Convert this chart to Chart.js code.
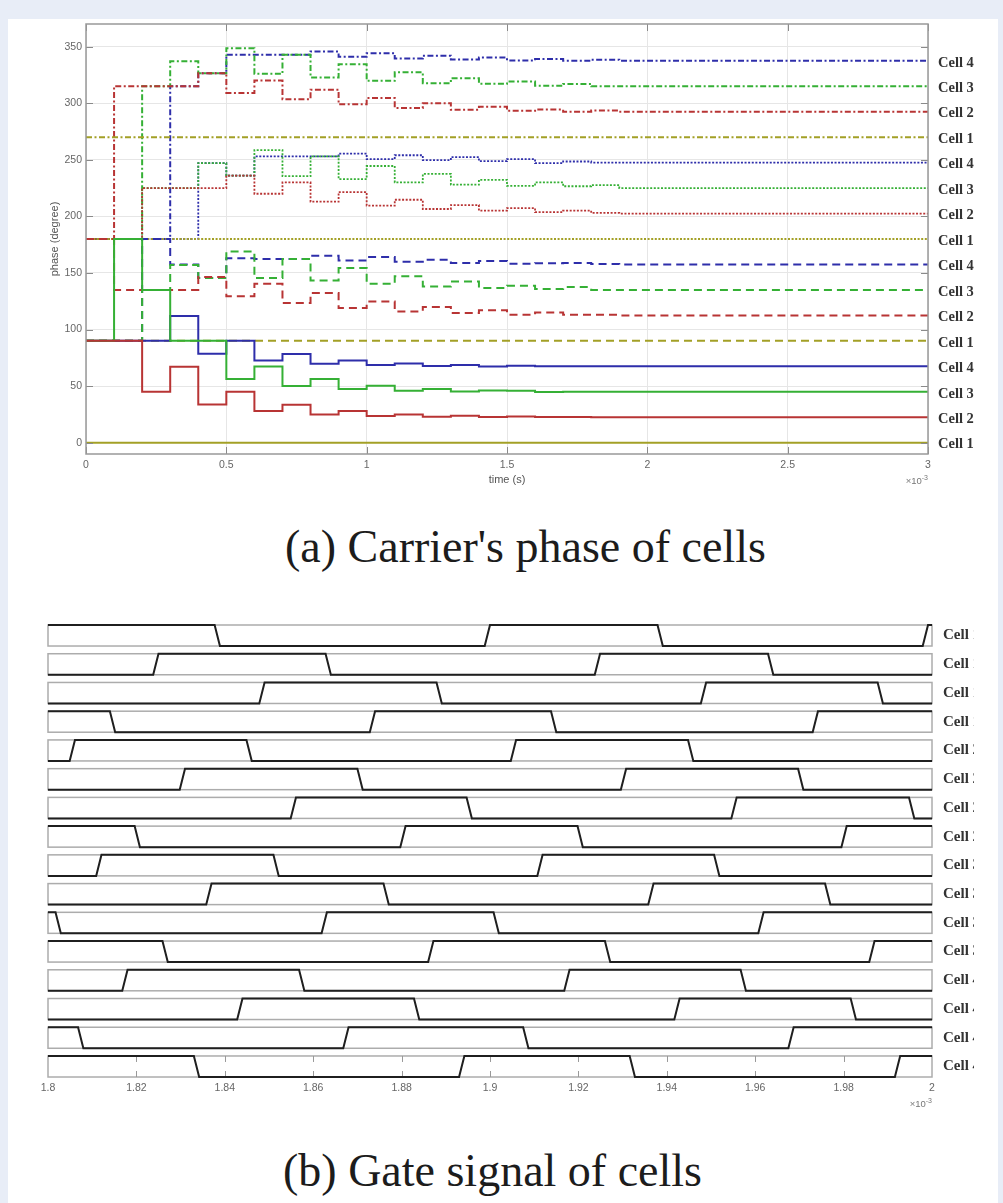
<!DOCTYPE html>
<html lang="en">
<head>
<meta charset="UTF-8">
<title>Carrier phase and gate signal of cells</title>
<script src="https://cdn.jsdelivr.net/npm/chart.js"></script>
<style>
  body { margin: 0; width: 1003px; height: 1203px; overflow: hidden; position: relative; background: #e8edf7; }
  .panel { position: absolute; left: 8px; top: 19px; width: 990px; height: 1184px; background: #fff; }
  .box { position: absolute; left: 0; width: 1003px; }
  .caption { position: absolute; font-family: "Liberation Serif", serif; font-size: 46px; line-height: 46px; color: #1c1c1c; white-space: nowrap; }
</style>
</head>
<body>
<div class="panel"></div>
<div class="box" style="top:0;height:500px"><canvas id="phaseChart" width="1003" height="500"></canvas></div>
<div class="caption" style="left:285px;top:524px">(a) Carrier's phase of cells</div>
<div class="box" style="top:600px;height:520px"><canvas id="gateChart" width="1003" height="520"></canvas></div>
<div class="caption" style="left:283px;top:1148px">(b) Gate signal of cells</div>
<script>
// ---------- (a) carrier phase, value held from each step time to the next ----------
const stepTimes = [0, 0.1, 0.2, 0.3, 0.4, 0.5, 0.6, 0.7, 0.8, 0.9, 1.0, 1.1, 1.2, 1.3, 1.4, 1.5, 1.6, 1.7, 1.8, 1.9];
const endTime = 3;
const timeTicks = [0, 0.5, 1, 1.5, 2, 2.5, 3];
const phaseTicks = [0, 50, 100, 150, 200, 250, 300, 350];
const cellNames = ['Cell 1', 'Cell 2', 'Cell 3', 'Cell 4'];

// solid group
const solidCell1 = [0, 0, 0, 0, 0, 0, 0, 0, 0, 0, 0, 0, 0, 0, 0, 0, 0, 0, 0, 0];
const solidCell2 = [90, 90, 45, 67, 33.75, 45, 28, 33.5, 25, 28, 23.5, 25, 23, 23.8, 22.6, 23.2, 22.8, 22.8, 22.5, 22.5];
const solidCell3 = [90, 180, 135, 90, 90, 56.2, 67.4, 50, 56.2, 47.4, 50.3, 45.9, 47.4, 45.3, 46.2, 45.9, 44.8, 45, 45, 45];
const solidCell4 = [90, 90, 90, 112, 78.6, 90, 72.7, 78.3, 69.8, 72.7, 68.6, 70, 67.7, 68.6, 67.4, 68, 67.5, 67.5, 67.5, 67.5];
// dashed group
const dashedCell1 = [90, 90, 90, 90, 90, 90, 90, 90, 90, 90, 90, 90, 90, 90, 90, 90, 90, 90, 90, 90];
const dashedCell2 = [180, 135, 135, 135, 146.4, 129.3, 140.5, 123.4, 132.2, 119, 124.8, 116, 120, 114.6, 117, 113, 115, 113, 113, 112.5];
const dashedCell3 = [90, 90, 135, 157, 145.5, 169, 145.5, 162.3, 143.4, 154.3, 140.5, 147, 138, 142.5, 136.6, 138.7, 135.8, 137.5, 135, 135];
const dashedCell4 = [90, 90, 180, 157.5, 145.5, 163, 162.3, 162.3, 165.2, 161, 164, 160, 161.7, 158.7, 160.5, 158.1, 158.5, 158.8, 157.8, 157.5];
// dotted group
const dottedCell1 = [180, 180, 180, 180, 180, 180, 180, 180, 180, 180, 180, 180, 180, 180, 180, 180, 180, 180, 180, 180];
const dottedCell2 = [180, 180, 225, 225, 225, 236, 220, 230, 213, 221.5, 209.5, 214.7, 206.5, 210, 205, 207.3, 203.8, 205, 203, 202.5];
const dottedCell3 = [180, 180, 225, 225, 247, 236, 258.5, 235.5, 253, 233, 244.5, 230, 237.5, 228, 232.3, 227, 230, 226.6, 227.6, 225];
const dottedCell4 = [180, 180, 180, 180, 247, 236, 253, 253, 253, 255.5, 250.6, 254, 249.7, 252.4, 248.8, 250.6, 247, 248.5, 247.5, 247.5];
// dash-dot group
const dashDotCell1 = [270, 270, 270, 270, 270, 270, 270, 270, 270, 270, 270, 270, 270, 270, 270, 270, 270, 270, 270, 270];
const dashDotCell2 = [180, 315, 315, 315, 326.5, 309, 320, 303.6, 312, 299, 304.5, 295.7, 300, 294.2, 296.8, 293.3, 294.5, 292.5, 293.5, 292.5];
const dashDotCell3 = [180, 180, 315, 337, 326.5, 348.6, 326, 342.8, 322.7, 334.5, 319.8, 327.4, 317.7, 322.1, 317.1, 319.2, 315.4, 317, 315, 315];
const dashDotCell4 = [180, 180, 180, 315, 326.5, 342.8, 342.8, 342.8, 345.7, 341, 344.2, 339.5, 342, 338.6, 340.5, 337.8, 339, 337.5, 338.5, 337.5];

// ---------- (b) gate signals, 1.8 .. 2 (x10^-3 s) ----------
const gateTicks = [1.8, 1.82, 1.84, 1.86, 1.88, 1.9, 1.92, 1.94, 1.96, 1.98, 2];
const gateNames = ['Cell 1', 'Cell 1', 'Cell 1', 'Cell 1', 'Cell 2', 'Cell 2', 'Cell 2', 'Cell 2',
                   'Cell 3', 'Cell 3', 'Cell 3', 'Cell 3', 'Cell 4', 'Cell 4', 'Cell 4', 'Cell 4'];
const gateStart = [1, 0, 0, 1, 0, 0, 0, 1, 0, 0, 1, 1, 0, 0, 1, 1];
const gateEdges = [
  [1.8383, 1.8994, 1.9385, 1.9985],
  [1.8244, 1.8634, 1.9243, 1.9635],
  [1.8484, 1.8885, 1.9483, 1.9883],
  [1.8146, 1.8734, 1.9144, 1.9736],
  [1.8055, 1.8455, 1.9053, 1.9454],
  [1.8304, 1.8706, 1.9302, 1.9703],
  [1.8555, 1.8953, 1.9552, 1.9954],
  [1.8202, 1.8803, 1.9204, 1.9801],
  [1.8115, 1.8516, 1.9113, 1.9513],
  [1.8364, 1.8765, 1.9364, 1.9764],
  [1.8023, 1.8625, 1.9014, 1.9613],
  [1.8265, 1.8866, 1.9266, 1.9864],
  [1.8174, 1.8574, 1.9174, 1.9573],
  [1.8434, 1.8834, 1.9423, 1.9822],
  [1.8074, 1.8674, 1.9081, 1.9681],
  [1.8336, 1.8936, 1.9322, 1.9922]
];
const gateRamp = 0.0012;

// ---------- styling ----------
const cellColours = ['#a3a026', '#b83434', '#35b035', '#2e2eaa'];
const lineStyles = {
  solid:   { dash: [], width: 2 },
  dashed:  { dash: [8, 5], width: 2 },
  dotted:  { dash: [2, 1.6], width: 1.8 },
  dashDot: { dash: [6, 2.5, 2, 2.5], width: 2 }
};
const phaseGroups = [
  { style: 'solid',   series: [solidCell1, solidCell2, solidCell3, solidCell4] },
  { style: 'dashed',  series: [dashedCell1, dashedCell2, dashedCell3, dashedCell4] },
  { style: 'dotted',  series: [dottedCell1, dottedCell2, dottedCell3, dottedCell4] },
  { style: 'dashDot', series: [dashDotCell1, dashDotCell2, dashDotCell3, dashDotCell4] }
];
const tickFont = { family: 'Liberation Sans', size: 10.5 };
const labelFont = 'bold 14.5px "Liberation Serif"';

function stepPoints(values) {
  const pts = stepTimes.map((t, i) => ({ x: t, y: values[i] }));
  pts.push({ x: endTime, y: values[values.length - 1] });
  return pts;
}

const phaseDatasets = [];
phaseGroups.forEach(g => {
  const st = lineStyles[g.style];
  g.series.forEach((vals, i) => {
    phaseDatasets.push({
      label: cellNames[i],
      data: stepPoints(vals),
      borderColor: cellColours[i],
      borderWidth: st.width,
      borderDash: st.dash,
      stepped: true,
      pointRadius: 0,
      fill: false
    });
  });
});

function drawExponent(ctx, right, y) {
  ctx.save();
  ctx.fillStyle = '#777';
  ctx.textBaseline = 'alphabetic';
  ctx.textAlign = 'right';
  ctx.font = '7px "Liberation Sans"';
  ctx.fillText('-3', right, y - 4);
  const w = ctx.measureText('-3').width;
  ctx.font = '9.5px "Liberation Sans"';
  ctx.fillText('\u00d710', right - w, y);
  ctx.restore();
}

// frame, inward ticks and right-hand labels, MATLAB style
const phaseFrame = {
  id: 'phaseFrame',
  afterDatasetsDraw(chart) {
    const { ctx, chartArea: a, scales: { x, y } } = chart;
    ctx.save();
    ctx.strokeStyle = '#8a8a8a';
    ctx.lineWidth = 1;
    ctx.beginPath();
    timeTicks.forEach(v => {
      const px = Math.round(x.getPixelForValue(v)) + 0.5;
      ctx.moveTo(px, a.bottom); ctx.lineTo(px, a.bottom - 7);
      ctx.moveTo(px, a.top); ctx.lineTo(px, a.top + 7);
    });
    phaseTicks.forEach(v => {
      const py = Math.round(y.getPixelForValue(v)) + 0.5;
      ctx.moveTo(a.left, py); ctx.lineTo(a.left + 7, py);
      ctx.moveTo(a.right, py); ctx.lineTo(a.right - 7, py);
    });
    ctx.stroke();
    ctx.strokeStyle = '#999';
    ctx.lineWidth = 1.5;
    ctx.strokeRect(a.left, a.top, a.right - a.left, a.bottom - a.top);

    ctx.fillStyle = '#333';
    ctx.font = labelFont;
    ctx.textAlign = 'left';
    ctx.textBaseline = 'middle';
    chart.data.datasets.forEach(ds => {
      const last = ds.data[ds.data.length - 1].y;
      ctx.fillText(ds.label, a.right + 10, y.getPixelForValue(last) + 2);
    });
    ctx.restore();
    drawExponent(ctx, a.right, a.bottom + 30);
  }
};

new Chart(document.getElementById('phaseChart'), {
  type: 'line',
  data: { datasets: phaseDatasets },
  options: {
    responsive: false,
    animation: false,
    layout: { padding: { left: 0, top: 24, right: 75, bottom: 0 } },
    plugins: { legend: { display: false }, tooltip: { enabled: false } },
    scales: {
      x: {
        type: 'linear', min: 0, max: endTime,
        afterBuildTicks: s => { s.ticks = timeTicks.map(v => ({ value: v })); },
        afterFit: s => { s.height = 46; },
        grid: { color: '#e6e6e6', drawTicks: false },
        border: { display: false },
        ticks: { color: '#666', font: tickFont, padding: 5, autoSkip: false, maxRotation: 0, callback: v => String(v) },
        title: { display: true, text: 'time (s)', color: '#555', font: { family: 'Liberation Sans', size: 11 }, padding: { top: 0, bottom: 13 } }
      },
      y: {
        min: -10, max: 370,
        afterBuildTicks: s => { s.ticks = phaseTicks.map(v => ({ value: v })); },
        afterFit: s => { s.width = 86; },
        grid: { color: '#e6e6e6', drawTicks: false },
        border: { display: false },
        ticks: { color: '#666', font: tickFont, padding: 4, callback: v => String(v) },
        title: { display: true, text: 'phase (degree)', color: '#555', font: { family: 'Liberation Sans', size: 11 }, padding: { top: 48, bottom: 0 } }
      }
    }
  },
  plugins: [phaseFrame]
});

// ---------- gate chart ----------
const rowPitch = 1.367;   // row spacing relative to row height
const rowCount = gateEdges.length;
const rowBase = i => (rowCount - 1 - i) * rowPitch;

const gateDatasets = gateEdges.map((edges, i) => {
  const base = rowBase(i);
  let level = gateStart[i];
  const pts = [{ x: 1.8, y: base + level }];
  edges.forEach(t => {
    pts.push({ x: t - gateRamp / 2, y: base + level });
    level = 1 - level;
    pts.push({ x: t + gateRamp / 2, y: base + level });
  });
  pts.push({ x: 2, y: base + level });
  return {
    label: gateNames[i],
    data: pts,
    borderColor: '#1f1f1f',
    borderWidth: 2,
    pointRadius: 0,
    fill: false,
    tension: 0,
    clip: 4
  };
});

const gateFrame = {
  id: 'gateFrame',
  beforeDatasetsDraw(chart) {
    const { ctx, scales: { x, y } } = chart;
    const l = x.getPixelForValue(1.8), r = x.getPixelForValue(2);
    ctx.save();
    ctx.strokeStyle = '#acacac';
    ctx.lineWidth = 1.5;
    for (let i = 0; i < rowCount; i++) {
      const top = y.getPixelForValue(rowBase(i) + 1), bot = y.getPixelForValue(rowBase(i));
      ctx.strokeRect(l, top, r - l, bot - top);
    }
    // inward ticks on the bottom row
    const top = y.getPixelForValue(rowBase(rowCount - 1) + 1), bot = y.getPixelForValue(rowBase(rowCount - 1));
    ctx.strokeStyle = '#999';
    ctx.lineWidth = 1;
    ctx.beginPath();
    gateTicks.slice(1, -1).forEach(v => {
      const px = Math.round(x.getPixelForValue(v)) + 0.5;
      ctx.moveTo(px, bot); ctx.lineTo(px, bot - 6);
      ctx.moveTo(px, top); ctx.lineTo(px, top + 6);
    });
    ctx.stroke();
    ctx.restore();
  },
  afterDraw(chart) {
    const { ctx, chartArea: a, scales: { y } } = chart;
    ctx.save();
    ctx.beginPath();
    ctx.rect(a.right, 0, 974 - a.right, chart.height);
    ctx.clip();
    ctx.fillStyle = '#333';
    ctx.font = 'bold 15px "Liberation Serif"';
    ctx.textAlign = 'left';
    ctx.textBaseline = 'middle';
    gateNames.forEach((name, i) => {
      ctx.fillText(name, a.right + 11, y.getPixelForValue(rowBase(i) + 0.5));
    });
    ctx.restore();
    drawExponent(ctx, a.right, a.bottom + 30);
  }
};

new Chart(document.getElementById('gateChart'), {
  type: 'line',
  data: { datasets: gateDatasets },
  options: {
    responsive: false,
    animation: false,
    layout: { padding: { left: 48, top: 25, right: 71, bottom: 0 } },
    plugins: { legend: { display: false }, tooltip: { enabled: false } },
    scales: {
      x: {
        type: 'linear', min: 1.8, max: 2,
        afterBuildTicks: s => { s.ticks = gateTicks.map(v => ({ value: v })); },
        afterFit: s => { s.height = 43; },
        grid: { display: false, drawTicks: false },
        border: { display: false },
        ticks: { color: '#666', font: tickFont, padding: 5, autoSkip: false, maxRotation: 0, callback: v => String(+v.toFixed(2)) }
      },
      y: { display: false, min: 0, max: rowBase(0) + 1 }
    }
  },
  plugins: [gateFrame]
});
</script>
</body>
</html>
